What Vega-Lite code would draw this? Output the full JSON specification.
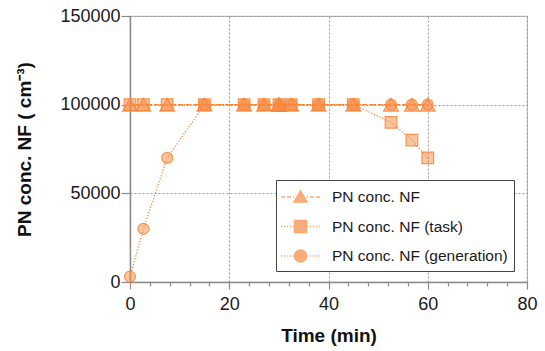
{
  "$schema": "https://vega.github.io/schema/vega-lite/v6.json",
  "autosize": {"type": "none"},
  "padding": {"left": 130, "top": 16, "right": 18, "bottom": 69},
  "width": 397,
  "height": 266,
  "config": {
    "font": "Liberation Sans",
    "view": {"stroke": "#bdbdbd", "strokeWidth": 1.2},
    "axis": {"labelFont": "Liberation Sans", "titleFont": "Liberation Sans", "labelColor": "#1a1a1a", "titleColor": "#111", "domainColor": "#8a8a8a", "domainWidth": 1.5, "tickColor": "#8a8a8a", "tickWidth": 1.2}
  },
  "data": {
    "values": [
      {"time": 0, "conc": 3000, "series": "PN conc. NF (generation)"},
      {"time": 2.7, "conc": 30000, "series": "PN conc. NF (generation)"},
      {"time": 7.5, "conc": 70000, "series": "PN conc. NF (generation)"},
      {"time": 15, "conc": 100000, "series": "PN conc. NF (generation)"},
      {"time": 23, "conc": 100000, "series": "PN conc. NF (generation)"},
      {"time": 27, "conc": 100000, "series": "PN conc. NF (generation)"},
      {"time": 30, "conc": 100000, "series": "PN conc. NF (generation)"},
      {"time": 32.5, "conc": 100000, "series": "PN conc. NF (generation)"},
      {"time": 38, "conc": 100000, "series": "PN conc. NF (generation)"},
      {"time": 45, "conc": 100000, "series": "PN conc. NF (generation)"},
      {"time": 52.6, "conc": 100000, "series": "PN conc. NF (generation)"},
      {"time": 56.8, "conc": 100000, "series": "PN conc. NF (generation)"},
      {"time": 60, "conc": 100000, "series": "PN conc. NF (generation)"},
      {"time": 0, "conc": 100000, "series": "PN conc. NF (task)"},
      {"time": 2.7, "conc": 100000, "series": "PN conc. NF (task)"},
      {"time": 7.5, "conc": 100000, "series": "PN conc. NF (task)"},
      {"time": 15, "conc": 100000, "series": "PN conc. NF (task)"},
      {"time": 23, "conc": 100000, "series": "PN conc. NF (task)"},
      {"time": 27, "conc": 100000, "series": "PN conc. NF (task)"},
      {"time": 30, "conc": 100000, "series": "PN conc. NF (task)"},
      {"time": 32.5, "conc": 100000, "series": "PN conc. NF (task)"},
      {"time": 38, "conc": 100000, "series": "PN conc. NF (task)"},
      {"time": 45, "conc": 100000, "series": "PN conc. NF (task)"},
      {"time": 52.6, "conc": 90000, "series": "PN conc. NF (task)"},
      {"time": 56.8, "conc": 80000, "series": "PN conc. NF (task)"},
      {"time": 60, "conc": 70000, "series": "PN conc. NF (task)"},
      {"time": 0, "conc": 100000, "series": "PN conc. NF"},
      {"time": 2.7, "conc": 100000, "series": "PN conc. NF"},
      {"time": 7.5, "conc": 100000, "series": "PN conc. NF"},
      {"time": 15, "conc": 100000, "series": "PN conc. NF"},
      {"time": 23, "conc": 100000, "series": "PN conc. NF"},
      {"time": 27, "conc": 100000, "series": "PN conc. NF"},
      {"time": 30, "conc": 100000, "series": "PN conc. NF"},
      {"time": 30, "conc": 100000, "series": "PN conc. NF"},
      {"time": 30, "conc": 100000, "series": "PN conc. NF"},
      {"time": 30, "conc": 100000, "series": "PN conc. NF"},
      {"time": 30, "conc": 100000, "series": "PN conc. NF"},
      {"time": 32.5, "conc": 100000, "series": "PN conc. NF"},
      {"time": 38, "conc": 100000, "series": "PN conc. NF"},
      {"time": 45, "conc": 100000, "series": "PN conc. NF"},
      {"time": 52.6, "conc": 100000, "series": "PN conc. NF"},
      {"time": 56.8, "conc": 100000, "series": "PN conc. NF"},
      {"time": 60, "conc": 100000, "series": "PN conc. NF"}
    ]
  },
  "resolve": {"axis": {"x": "independent"}},
  "layer": [
    {
      "transform": [{"filter": "datum.series === 'PN conc. NF (generation)'"}],
      "mark": {"type": "line", "color": "#F7873A", "strokeWidth": 1.3, "strokeDash": [1.2, 1.8]},
      "encoding": {
        "x": {"field": "time", "type": "quantitative", "scale": {"domain": [0, 80], "nice": false},
          "axis": {"orient": "bottom", "values": [0, 20, 40, 60, 80], "title": "Time (min)", "titleFontSize": 19, "titleFontWeight": "bold", "titlePadding": 13, "labelFontSize": 18, "labelPadding": 6, "tickSize": 7, "gridColor": "#9a9a9a", "gridDash": [2, 2], "gridWidth": 1, "labelFlush": false}},
        "y": {"field": "conc", "type": "quantitative", "scale": {"domain": [0, 150000], "nice": false},
          "axis": {"values": [0, 50000, 100000, 150000], "format": "d", "title": "PN conc. NF ( cm⁻³)", "titleFontSize": 19, "titleFontWeight": "bold", "titlePadding": 25, "labelFontSize": 18, "labelPadding": 1, "tickSize": 9, "gridColor": "#9a9a9a", "gridDash": [2, 2], "gridWidth": 1, "labelFlush": false}},
        "order": {"field": "time"}
      }
    },
    {
      "transform": [{"filter": "datum.series === 'PN conc. NF (task)'"}],
      "mark": {"type": "line", "color": "#F7873A", "strokeWidth": 1.3, "strokeDash": [1.2, 1.8]},
      "encoding": {
        "x": {"field": "time", "type": "quantitative", "axis": null},
        "y": {"field": "conc", "type": "quantitative"},
        "order": {"field": "time"}
      }
    },
    {
      "transform": [{"filter": "datum.series === 'PN conc. NF'"}],
      "mark": {"type": "line", "color": "#F7873A", "strokeWidth": 1.3, "strokeDash": [5, 3]},
      "encoding": {
        "x": {"field": "time", "type": "quantitative", "axis": null},
        "y": {"field": "conc", "type": "quantitative"},
        "order": {"field": "time"}
      }
    },
    {
      "transform": [{"filter": "datum.series === 'PN conc. NF (generation)'"}],
      "mark": {"type": "point", "shape": "circle", "filled": true, "fill": "#F98B45", "fillOpacity": 0.5, "stroke": "#F7873A", "strokeOpacity": 0.85, "strokeWidth": 1.2, "size": 120},
      "encoding": {
        "x": {"field": "time", "type": "quantitative", "axis": null},
        "y": {"field": "conc", "type": "quantitative"}
      }
    },
    {
      "transform": [{"filter": "datum.series === 'PN conc. NF (task)'"}],
      "mark": {"type": "point", "shape": "square", "filled": true, "fill": "#F98B45", "fillOpacity": 0.5, "stroke": "#F7873A", "strokeOpacity": 0.85, "strokeWidth": 1.2, "size": 135},
      "encoding": {
        "x": {"field": "time", "type": "quantitative", "axis": null},
        "y": {"field": "conc", "type": "quantitative"}
      }
    },
    {
      "transform": [{"filter": "datum.series === 'PN conc. NF'"}],
      "mark": {"type": "point", "shape": "triangle-up", "filled": true, "fill": "#F98B45", "fillOpacity": 0.55, "stroke": "#F7873A", "strokeOpacity": 0.85, "strokeWidth": 1.2, "size": 220},
      "encoding": {
        "x": {"field": "time", "type": "quantitative", "axis": null},
        "y": {"field": "conc", "type": "quantitative"}
      }
    },
    {
      "transform": [{"filter": "false"}],
      "mark": {"type": "point", "filled": true, "fill": "#F98B45", "stroke": "#F7873A", "strokeWidth": 1.2},
      "encoding": {
        "x": {"field": "time", "type": "quantitative", "axis": null},
        "y": {"field": "conc", "type": "quantitative"},
        "shape": {"field": "series", "type": "nominal",
          "scale": {"domain": ["PN conc. NF", "PN conc. NF (task)", "PN conc. NF (generation)"],
            "range": [
              "M-1.2,0H-0.8M-0.6,0H-0.2M0,0H0.1M1.4,0H1.5M1.7,0H2.1M2.3,0H2.7M0.1,0.5L0.75,-0.6L1.4,0.5Z",
              "M-1.2,0H-1.08M-0.9,0H-0.78M-0.6,0H-0.48M-0.3,0H-0.18M0,0H0.12M1.38,0H1.5M1.68,0H1.8M1.98,0H2.1M2.28,0H2.4M2.58,0H2.7M0.15,-0.6H1.35V0.6H0.15Z",
              "M-1.2,0H-1.08M-0.9,0H-0.78M-0.6,0H-0.48M-0.3,0H-0.18M0,0H0.12M1.38,0H1.5M1.68,0H1.8M1.98,0H2.1M2.28,0H2.4M2.58,0H2.7M0.15,0A0.6,0.6,0,1,1,1.35,0A0.6,0.6,0,1,1,0.15,0Z"
            ]},
          "legend": {
            "orient": "none", "legendX": 146, "legendY": 164, "title": null,
            "strokeColor": "#444", "fillColor": "white", "padding": 6,
            "symbolSize": 400,
            "labelFontSize": 15.5, "labelFont": "Liberation Sans", "labelColor": "#1a1a1a", "labelOffset": 28, "labelLimit": 0, "rowPadding": 9.5,
            "encode": {"symbols": {"stroke": {"value": "#F7873A"}, "fill": {"value": "#F98B45"}, "fillOpacity": {"value": 0.5}, "strokeWidth": {"value": 1.2}, "opacity": {"value": 1}}}
          }
        }
      }
    },
    {
      "mark": {"type": "point", "opacity": 0},
      "encoding": {
        "x": {"field": "time", "type": "quantitative",
          "axis": {"orient": "bottom", "values": [4, 8, 12, 16, 24, 28, 32, 36, 44, 48, 52, 56, 64, 68, 72, 76], "labels": false, "title": null, "domain": false, "grid": false, "tickSize": 4}},
        "y": {"field": "conc", "type": "quantitative"}
      }
    }
  ]
}
